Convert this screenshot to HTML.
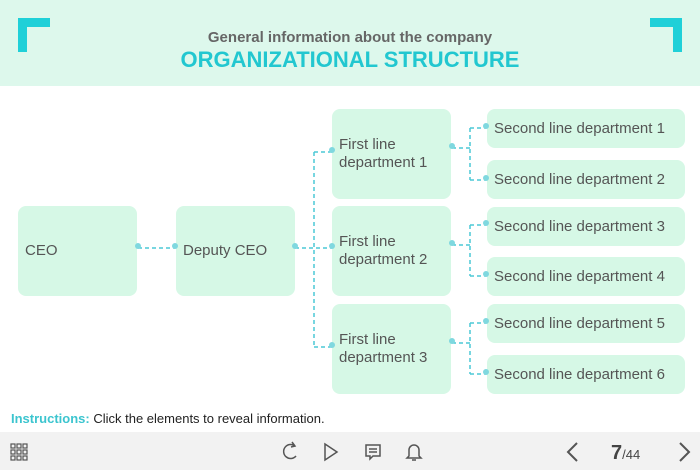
<!DOCTYPE html>
<html><head><style>
body{margin:0;width:700px;height:470px;position:relative;overflow:hidden;background:#fff;font-family:"Liberation Sans",sans-serif;}
.hdr{position:absolute;left:0;top:0;width:700px;height:86px;background:#ddf8ec;}
.b{position:absolute;background:#d6f8e6;border-radius:8px;color:#555;font-size:15px;display:flex;align-items:center;padding-left:7px;box-sizing:border-box;line-height:18px;}
.foot{position:absolute;left:0;top:432px;width:700px;height:38px;background:#f2f2f2;}
</style></head><body>
<div class="hdr"></div>
<svg style="position:absolute;left:0;top:0" width="700" height="470">
<path d="M18 52V18H50V27H27V52Z" fill="#1fd0d8"/>
<path d="M682 52V18H650V27H673V52Z" fill="#1fd0d8"/>
</svg>
<div style="position:absolute;left:0;width:700px;top:29px;text-align:center;font-size:15px;font-weight:bold;color:#666">General information about the company</div>
<div style="position:absolute;left:0;width:700px;top:47px;text-align:center;font-size:22px;font-weight:bold;color:#22c7d0">ORGANIZATIONAL STRUCTURE</div>

<div class="b" style="left:18px;top:206px;width:119px;height:90px">CEO</div>
<div class="b" style="left:176px;top:206px;width:119px;height:90px">Deputy CEO</div>
<div class="b" style="left:332px;top:109px;width:119px;height:90px">First line<br>department 1</div>
<div class="b" style="left:332px;top:206px;width:119px;height:90px">First line<br>department 2</div>
<div class="b" style="left:332px;top:304px;width:119px;height:90px">First line<br>department 3</div>
<div class="b" style="left:487px;top:109px;width:198px;height:39px">Second line department 1</div>
<div class="b" style="left:487px;top:160px;width:198px;height:39px">Second line department 2</div>
<div class="b" style="left:487px;top:207px;width:198px;height:39px">Second line department 3</div>
<div class="b" style="left:487px;top:257px;width:198px;height:39px">Second line department 4</div>
<div class="b" style="left:487px;top:304px;width:198px;height:39px">Second line department 5</div>
<div class="b" style="left:487px;top:355px;width:198px;height:39px">Second line department 6</div>

<svg style="position:absolute;left:0;top:0" width="700" height="470">
<g stroke="#4cc9d6" stroke-width="1.5" stroke-dasharray="4,3" fill="none">
<path d="M138 248H175"/>
<path d="M295 248H332M314 152V347M314 152H332M314 347H332"/>
<path d="M452 148H470M470 128V180M470 128H486M470 180H486"/>
<path d="M452 245H470M470 225V276M470 225H486M470 276H486"/>
<path d="M452 343H470M470 323V374M470 323H486M470 374H486"/>
</g>
<g fill="#7fd8df">
<circle cx="138" cy="246" r="3"/><circle cx="175" cy="246" r="3"/><circle cx="295" cy="246" r="3"/>
<circle cx="332" cy="150" r="3"/><circle cx="332" cy="246" r="3"/><circle cx="332" cy="345" r="3"/>
<circle cx="452" cy="146" r="3"/><circle cx="452" cy="243" r="3"/><circle cx="452" cy="341" r="3"/>
<circle cx="486" cy="126" r="3"/><circle cx="486" cy="178" r="3"/><circle cx="486" cy="223" r="3"/>
<circle cx="486" cy="274" r="3"/><circle cx="486" cy="321" r="3"/><circle cx="486" cy="372" r="3"/>
</g>
</svg>

<div style="position:absolute;left:11px;top:411px;font-size:13px;color:#222"><b style="color:#3cc5cf">Instructions:</b> Click the elements to reveal information.</div>
<div class="foot"></div>
<svg style="position:absolute;left:0;top:432px" width="700" height="38" fill="none" stroke="#555" stroke-width="1.5">
<g stroke-width="1.2"><rect x="11" y="12" width="4" height="4"/><rect x="17" y="12" width="4" height="4"/><rect x="23" y="12" width="4" height="4"/><rect x="11" y="18" width="4" height="4"/><rect x="17" y="18" width="4" height="4"/><rect x="23" y="18" width="4" height="4"/><rect x="11" y="24" width="4" height="4"/><rect x="17" y="24" width="4" height="4"/><rect x="23" y="24" width="4" height="4"/></g>
<path d="M295 14A7 7 0 1 0 296 24M292 10L295 14L291 15"/>
<path d="M325 12L337 20L325 28Z"/>
<path d="M366 13H380V24H373L370 27V24H366ZM369 17H377M369 20H377"/>
<path d="M409 24V18A5 5 0 0 1 419 18V24L421 26H407ZM412 28H416"/>
<path d="M577 11L568 20L577 29" stroke-width="2"/>
<path d="M680 11L689 20L680 29" stroke-width="2"/>
</svg>
<div style="position:absolute;left:611px;top:442px;color:#444"><b style="font-size:20px">7</b><span style="font-size:13px">/44</span></div>
</body></html>
